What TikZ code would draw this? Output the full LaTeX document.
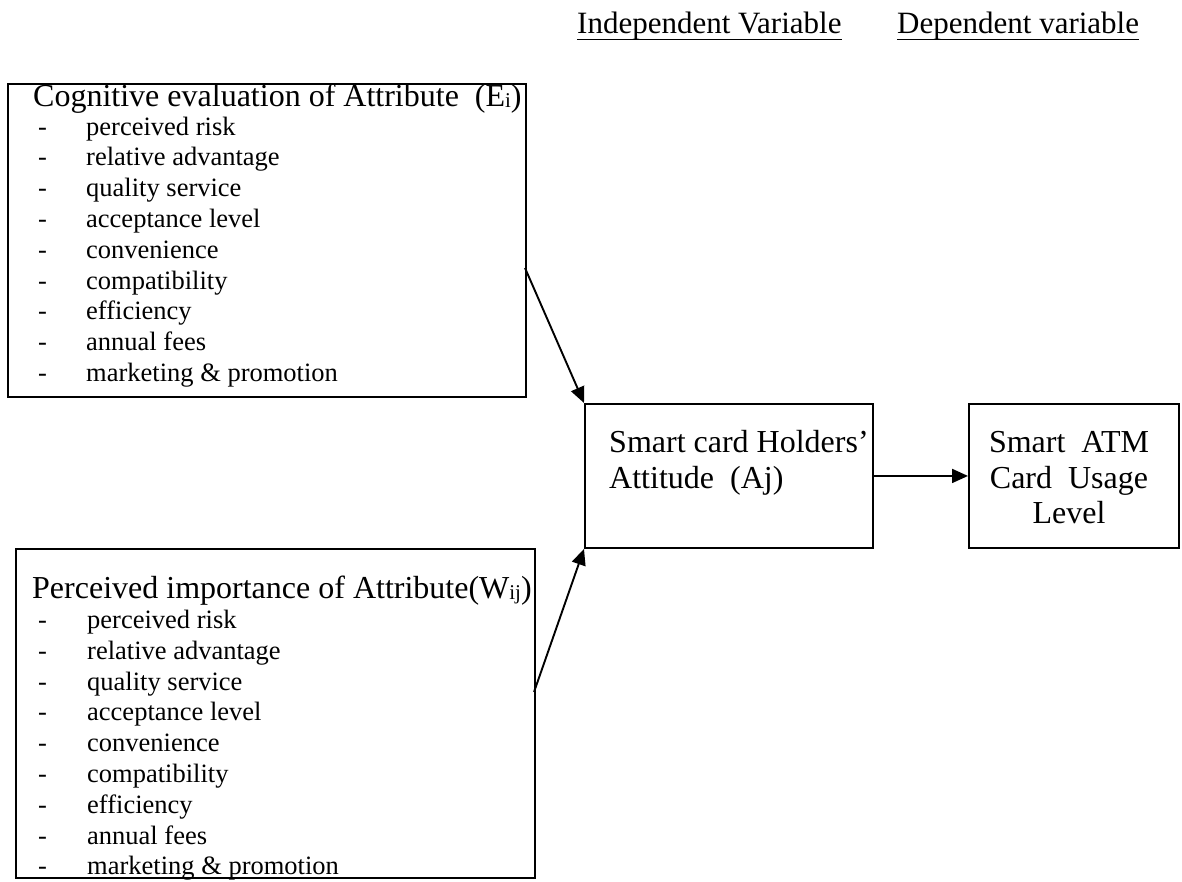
\documentclass[tikz,border=0pt]{standalone}
\usepackage{fontspec}
\setmainfont{Liberation Serif}
\usetikzlibrary{arrows.meta}
\newcommand\mysub[1]{\raisebox{-1.5pt}{\fontsize{21}{21}\selectfont #1}}
\begin{document}
\begin{tikzpicture}[x=1pt,y=-1pt,
  box/.style={draw,line width=1.9pt,rectangle,inner sep=0pt,anchor=north west},
  big/.style={font=\fontsize{32}{36}\selectfont,inner sep=0pt,anchor=base west},
  hdr/.style={font=\fontsize{31}{36}\selectfont,inner sep=0pt,anchor=base west},
  item/.style={font=\fontsize{26.5}{30}\selectfont,inner sep=0pt,anchor=base west},
  uline/.style={line width=1.5pt},
  arr/.style={line width=1.9pt,-{Triangle[length=16pt,width=14pt]}}]
\useasboundingbox (0,0) rectangle (1182,881);
% header
\node[hdr] (hd1) at (577,33) {Independent Variable};
\node[hdr] (hd2) at (897,33) {Dependent variable};
\draw[uline] ([yshift=-6.5pt]hd1.base west) -- ([yshift=-6.5pt]hd1.base east);
\draw[uline] ([yshift=-6.5pt]hd2.base west) -- ([yshift=-6.5pt]hd2.base east);
% box 1
\node[box,minimum width=518pt,minimum height=313pt] (b1) at (7,83) {};
\node[big] (h1) at (33,106) {Cognitive evaluation of Attribute\ \ (E\mysub{i})};
\foreach \t [count=\i] in {perceived risk,relative advantage,quality service,acceptance level,convenience,compatibility,efficiency,annual fees,marketing \& promotion}{
  \node[item] (d1-\i) at (38,{135+30.8*(\i-1)}) {-};
  \node[item] (t1-\i) at (86,{135+30.8*(\i-1)}) {\t};
}
% box 2
\node[box,minimum width=519pt,minimum height=329pt] (b2) at (15,548) {};
\node[big] (h2) at (32,598) {Perceived importance of Attribute(W\mysub{ij})};
\foreach \t [count=\i] in {perceived risk,relative advantage,quality service,acceptance level,convenience,compatibility,efficiency,annual fees,marketing \& promotion}{
  \node[item] (d2-\i) at (38,{628.5+30.8*(\i-1)}) {-};
  \node[item] (t2-\i) at (87,{628.5+30.8*(\i-1)}) {\t};
}
% middle box
\node[box,minimum width=288pt,minimum height=144pt] (mid) at (584,403) {};
\node[big] (m1) at (609,452) {Smart card Holders’};
\node[big] (m2) at (609,488) {Attitude\ \ (Aj)};
% right box
\node[box,minimum width=210pt,minimum height=144pt] (rb) at (968,403) {};
\node[big,anchor=base] (r1) at (1069,452) {Smart\ \ ATM};
\node[big,anchor=base] (r2) at (1069,488) {Card\ \ Usage};
\node[big,anchor=base] (r3) at (1069,523) {Level};
% arrows
\coordinate (a1) at (525,268);
\coordinate (a2) at (534,692);
\draw[arr] (a1) -- (mid.north west);
\draw[arr] (a2) -- (mid.south west);
\draw[arr] (mid.east) -- (rb.west);
\end{tikzpicture}
\end{document}
